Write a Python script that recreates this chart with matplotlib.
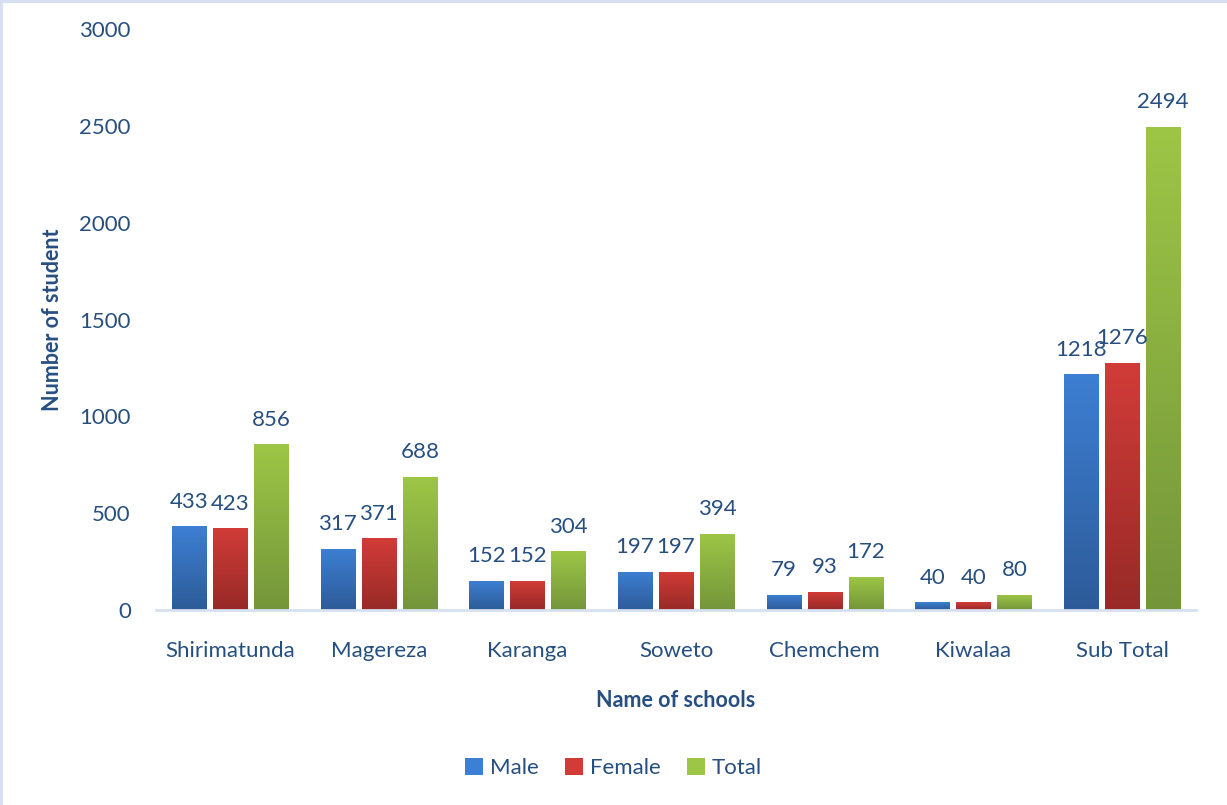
import numpy as np
import matplotlib.pyplot as plt
from matplotlib.colors import LinearSegmentedColormap
from matplotlib.patches import Rectangle
from matplotlib.lines import Line2D

schools = ["Shirimatunda", "Magereza", "Karanga", "Soweto", "Chemchem", "Kiwalaa", "Sub Total"]
male = [433, 317, 152, 197, 79, 40, 1218]
female = [423, 371, 152, 197, 93, 40, 1276]
total = [856, 688, 304, 394, 172, 80, 2494]

txt = "#264f80"
plt.rcParams['font.family'] = ['Lato', 'DejaVu Sans']

fig = plt.figure(figsize=(12.27, 8.05), dpi=100)
ax = fig.add_axes([0.127, 0.2422, 0.848, 0.7218])

x = np.arange(len(schools))
w = 0.229
step = 0.276
series = [
    ("Male", male, "#3d7fd3", "#2d5b98"),
    ("Female", female, "#d23c38", "#972a27"),
    ("Total", total, "#9dc646", "#74953a"),
]

grad = np.linspace(0, 1, 256).reshape(-1, 1)
for i, (name, vals, top, bot) in enumerate(series):
    cmap = LinearSegmentedColormap.from_list(name, [bot, top])
    bars = ax.bar(x + (i - 1) * step, vals, w, color=top, label=name)
    for b in bars:
        b.set_facecolor("none")
        b.set_edgecolor("none")
        bx, by = b.get_x(), b.get_y()
        im = ax.imshow(grad, cmap=cmap, aspect="auto", origin="lower",
                       extent=[bx, bx + b.get_width(), by, by + b.get_height()],
                       zorder=2)
        im.set_clip_path(b)
    for xi, v in zip(x + (i - 1) * step, vals):
        ax.text(xi, v + 75, str(v), ha="center", va="bottom", fontsize=16, color=txt)

ax.set_xlim(-0.5, len(schools) - 0.5)
ax.set_ylim(0, 3000)
ax.set_yticks(range(0, 3001, 500))
ax.set_xticks(x)
ax.set_xticklabels(schools)
ax.tick_params(length=0, labelsize=16, colors=txt)
ax.tick_params(axis="y", pad=18)
ax.tick_params(axis="x", pad=22)
for s in ["top", "right", "left"]:
    ax.spines[s].set_visible(False)
ax.spines["bottom"].set_color("#d6e0f0")
ax.spines["bottom"].set_linewidth(2)

ax.set_ylabel("Number of student", fontsize=15.5, fontweight="bold", color=txt, labelpad=12)
ax.set_xlabel("Name of schools", fontsize=15.5, fontweight="bold", color=txt, labelpad=21)

h = [Rectangle((0, 0), 1, 1, facecolor=s[2]) for s in series]
fig.legend(h, [s[0] for s in series], loc="center", bbox_to_anchor=(0.5, 0.046), ncol=3,
           frameon=False, fontsize=16, labelcolor=txt, handlelength=0.8, handleheight=0.8,
           handletextpad=0.3, columnspacing=1.2)

# light border on left and top like the source image
fig.lines.append(Line2D([0.001, 0.001], [0, 1], transform=fig.transFigure, color="#d6e0f0", lw=3))
fig.lines.append(Line2D([0, 1], [0.999, 0.999], transform=fig.transFigure, color="#d6e0f0", lw=3))

fig.savefig("out.png", dpi=100)
